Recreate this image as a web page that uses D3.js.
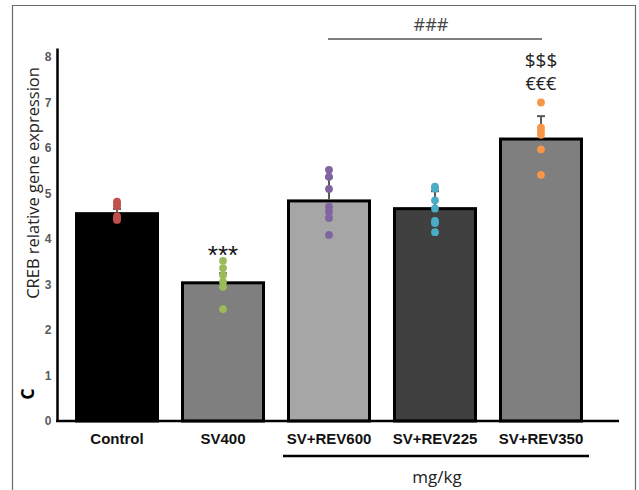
<!DOCTYPE html>
<html>
<head>
<meta charset="utf-8">
<script src="https://cdn.jsdelivr.net/npm/d3@7"></script>
<style>
  html, body { margin: 0; padding: 0; background: #fff; }
  svg { display: block; }
</style>
</head>
<body>
<svg id="chart" width="639" height="490"></svg>
<script>
// Groups and group means (bar heights)
const categories = ["Control", "SV400", "SV+REV600", "SV+REV225", "SV+REV350"];
const means = [4.59, 3.07, 4.87, 4.70, 6.23];
// Upper end of each error bar
const errTop = [4.66, 3.25, 5.35, 5.05, 6.70];
// Individual animal values
const ptsControl = [4.82, 4.77, 4.72, 4.50, 4.45, 4.42];
const ptsSV400 = [3.52, 3.36, 3.21, 3.06, 2.95, 2.46];
const ptsREV600 = [5.52, 5.37, 5.10, 4.71, 4.60, 4.46, 4.09];
const ptsREV225 = [5.15, 5.11, 4.85, 4.67, 4.40, 4.35, 4.15];
const ptsREV350 = [7.00, 6.45, 6.36, 6.29, 5.97, 5.41];
const yTicks = [0, 1, 2, 3, 4, 5, 6, 7, 8];
// Significance marks above bars
const marks = ["", "***", "", "", "$$$"];
const marks2 = ["", "", "", "", "€€€"];

const barFills = ["#000000", "#7f7f7f", "#a6a6a6", "#404040", "#7f7f7f"];
const dotColors = ["#c0504d", "#9bbb59", "#8064a2", "#4bacc6", "#f79646"];
const groups = [ptsControl, ptsSV400, ptsREV600, ptsREV225, ptsREV350];

const svg = d3.select("#chart");

// Panel frame
svg.append("path")
  .attr("d", "M12.5,490 V5.5 H635.5 V490")
  .attr("fill", "none").attr("stroke", "#6b6b6b").attr("stroke-width", 1.2);

const x = d3.scaleBand().domain(categories).range([64, 594])
  .paddingInner(0.2075).paddingOuter(0.104);
const y = d3.scaleLinear().domain([0, 8.2]).range([421, 421 - 8.2 * 45.5]);

// Bars
svg.append("g").selectAll("rect").data(categories).join("rect")
  .attr("x", d => x(d) + 1.5)
  .attr("width", x.bandwidth() - 3)
  .attr("y", (d, i) => y(means[i]) + 1.5)
  .attr("height", (d, i) => y(0) - y(means[i]) - 1.5)
  .attr("fill", (d, i) => barFills[i])
  .attr("stroke", "#000").attr("stroke-width", 3);

// Error bars
const eb = svg.append("g").attr("stroke", "#595959").attr("stroke-width", 2);
categories.forEach((c, i) => {
  const cx = x(c) + x.bandwidth() / 2;
  eb.append("line").attr("x1", cx).attr("x2", cx)
    .attr("y1", y(means[i])).attr("y2", y(errTop[i]));
  eb.append("line").attr("x1", cx - 4).attr("x2", cx + 4)
    .attr("y1", y(errTop[i])).attr("y2", y(errTop[i]));
});

// Individual points
categories.forEach((c, i) => {
  const cx = x(c) + x.bandwidth() / 2;
  svg.append("g").selectAll("circle").data(groups[i]).join("circle")
    .attr("cx", cx).attr("cy", v => y(v)).attr("r", 3.9)
    .attr("fill", dotColors[i]);
});

// Y axis
const yAxis = svg.append("g").attr("transform", "translate(57,0)")
  .call(d3.axisLeft(y).tickValues(yTicks).tickSize(0).tickPadding(5.5).tickFormat(d3.format("d")));
yAxis.select(".domain").attr("stroke", "#000").attr("stroke-width", 2.5);
yAxis.selectAll("text")
  .attr("font-family", "Liberation Sans, Arial, sans-serif")
  .attr("font-size", 12).attr("font-weight", "bold").attr("fill", "#5a5a5a");

// X axis baseline and category labels
svg.append("line").attr("x1", 56).attr("x2", 619).attr("y1", 421).attr("y2", 421)
  .attr("stroke", "#000").attr("stroke-width", 2.5);
const xAxis = svg.append("g").attr("transform", "translate(0,421)")
  .call(d3.axisBottom(x).tickSize(0).tickPadding(12.5));
xAxis.select(".domain").remove();
xAxis.selectAll("text")
  .attr("font-family", "Liberation Sans, Arial, sans-serif")
  .attr("font-size", 15).attr("font-weight", "bold").attr("fill", "#111");

// Dose grouping line and unit
svg.append("line").attr("x1", 283).attr("x2", 589).attr("y1", 456).attr("y2", 456)
  .attr("stroke", "#000").attr("stroke-width", 2.5);
svg.append("text").attr("x", 437).attr("y", 483).attr("text-anchor", "middle")
  .attr("font-family", "Open Sans, sans-serif").attr("font-size", 17)
  .attr("fill", "#222").text("mg/kg");

// Y axis title
svg.append("text")
  .attr("transform", "translate(39,183) rotate(-90)")
  .attr("text-anchor", "middle")
  .attr("font-family", "Open Sans, sans-serif").attr("font-size", 16.5)
  .attr("fill", "#222").text("CREB relative gene expression");

// Panel letter
svg.append("text")
  .attr("transform", "translate(34,394) rotate(-90)")
  .attr("text-anchor", "middle")
  .attr("font-family", "Open Sans, sans-serif").attr("font-size", 18)
  .attr("font-weight", "bold").attr("fill", "#000").text("C");

// Significance annotations
categories.forEach((c, i) => {
  const cx = x(c) + x.bandwidth() / 2;
  if (marks[i] === "***") {
    svg.append("text").attr("x", cx).attr("y", 264).attr("text-anchor", "middle")
      .attr("font-family", "Liberation Sans, Arial, sans-serif").attr("font-size", 26)
      .attr("fill", "#111").text(marks[i]);
  } else if (marks[i]) {
    svg.append("text").attr("x", cx).attr("y", 67).attr("text-anchor", "middle")
      .attr("font-family", "Open Sans, sans-serif").attr("font-size", 19)
      .attr("fill", "#222").text(marks[i]);
  }
  if (marks2[i]) {
    svg.append("text").attr("x", cx).attr("y", 90).attr("text-anchor", "middle")
      .attr("font-family", "Open Sans, sans-serif").attr("font-size", 18)
      .attr("fill", "#222").text(marks2[i]);
  }
});

// Comparison bracket across the resveratrol groups
const x0 = x("SV+REV600") + x.bandwidth() / 2 - 1;
const x1 = x("SV+REV350") + x.bandwidth() / 2 + 1;
svg.append("line").attr("x1", x0).attr("x2", x1).attr("y1", 39).attr("y2", 39)
  .attr("stroke", "#555").attr("stroke-width", 1.5);
svg.append("text").attr("x", (x0 + x1) / 2 - 4).attr("y", 31).attr("text-anchor", "middle")
  .attr("font-family", "Open Sans, sans-serif").attr("font-size", 18)
  .attr("fill", "#444").text("###");
</script>
</body>
</html>
